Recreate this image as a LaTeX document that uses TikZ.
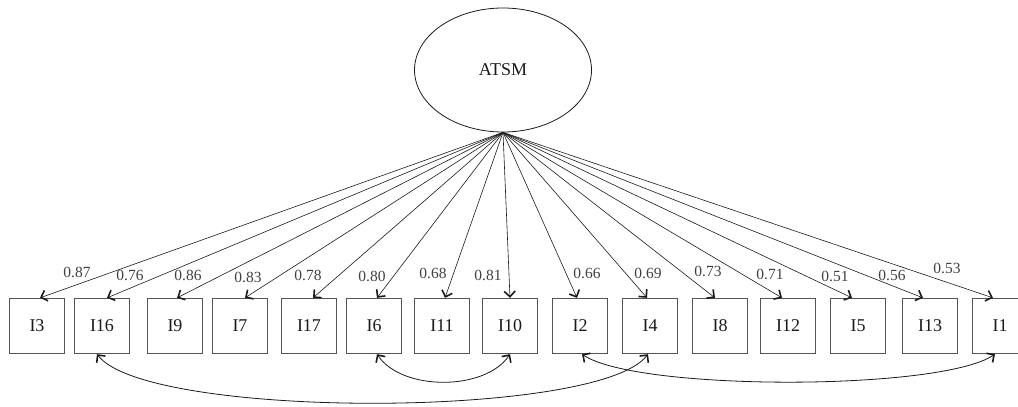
\documentclass[tikz,border=0pt]{standalone}
\usepackage{fontspec}
\setmainfont{Liberation Serif}
\usetikzlibrary{arrows.meta,positioning,shapes.geometric}
\definecolor{ink}{HTML}{1A1A1A}
\definecolor{frame}{HTML}{555555}
\definecolor{subink}{HTML}{404040}
\tikzset{
  >={Straight Barb[length=5.5pt,width=11pt,line width=1.6pt]},
  latent/.style={
    ellipse, draw=ink, line width=0.8pt, minimum width=177pt,
    minimum height=124pt, inner sep=0pt, text=ink,
    font=\fontsize{18}{21}\selectfont
  },
  item/.style={
    draw=frame, line width=1.3pt, minimum size=55pt, inner sep=0pt,
    text=ink, font=\fontsize{18}{21}\selectfont
  },
  load/.style={->, line width=0.6pt, draw=ink},
  cov/.style={<->, line width=0.8pt, draw=ink},
  tag/.style={font=\fontsize{15.5}{17}\selectfont, text=subink, inner sep=0.5pt}
}

\begin{document}
\begin{tikzpicture}[x=1pt,y=1pt]
  \useasboundingbox (0,0) rectangle (1018,-407);

  \node[latent] (atsm) at (503,-70) {ATSM};

  % indicator boxes, left to right
  \foreach \n/\x in {I3/37,I16/102,I9/175,I7/240,I17/309,I6/374,I11/442,I10/510,
                     I2/580,I4/650,I8/720,I12/788,I5/858,I13/930,I1/1000}
    \node[item] (\n) at (\x,-326) {\n};

  % loadings
  \foreach \n/\dx in {I3/3,I16/5,I9/2,I7/5,I17/4,I6/3,I11/3,I10/0,
                      I2/-3,I4/-3,I8/-5,I12/-6,I5/-6,I13/-7,I1/-7}
    \draw[load] (atsm.south) -- ([xshift=\dx pt]\n.north);

  % error covariances
  \draw[cov] ([xshift=-5pt]I16.south) .. controls +(50,-65) and +(-50,-65) .. ([xshift=-2pt]I4.south);
  \draw[cov] ([xshift=3pt]I6.south) .. controls +(25,-37) and +(-25,-37) .. (I10.south);
  \draw[cov] ([xshift=2pt]I2.south) .. controls +(55,-37) and +(-55,-37) .. ([xshift=-5pt]I1.south);

  % ---- loading values ----
  \node[tag] (l3)  at (77,-272)  {0.87};
  \node[tag] (l16) at (130,-275) {0.76};
  \node[tag] (l9)  at (188,-275) {0.86};
  \node[tag] (l7)  at (248,-277) {0.83};
  \node[tag] (l17) at (308,-275) {0.78};
  \node[tag] (l6)  at (372,-276) {0.80};
  \node[tag] (l11) at (433,-273) {0.68};
  \node[tag] (l10) at (488,-275) {0.81};
  \node[tag] (l2)  at (587,-273) {0.66};
  \node[tag] (l4)  at (648,-273) {0.69};
  \node[tag] (l8)  at (708,-271) {0.73};
  \node[tag] (l12) at (770,-274) {0.71};
  \node[tag] (l5)  at (835,-276) {0.51};
  \node[tag] (l13) at (892,-275) {0.56};
  \node[tag] (l1)  at (947,-268) {0.53};
\end{tikzpicture}
\end{document}
